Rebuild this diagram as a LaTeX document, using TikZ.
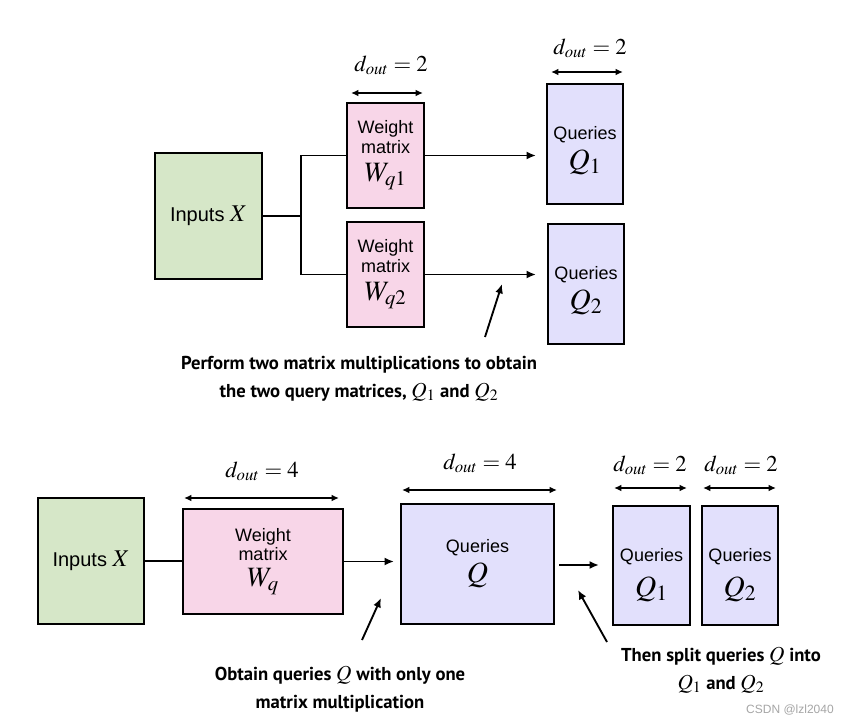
\documentclass[tikz,border=0pt]{standalone}
\usepackage{mathptmx}
\usepackage{fontspec}
\setmainfont{Liberation Sans}
\newfontfamily\capfont{PT Sans}
\usetikzlibrary{arrows.meta}
\definecolor{ingreen}{RGB}{214,231,200}
\definecolor{wpink}{RGB}{248,214,232}
\definecolor{qlav}{RGB}{226,224,252}
\begin{document}
\begin{tikzpicture}[x=0.75pt,y=-0.75pt,
  box/.style={draw=black,line width=1.6pt,inner sep=0pt,align=center,font=\fontsize{13.5}{14.5}\selectfont},
  inbox/.style={box,fill=ingreen,font=\fontsize{15}{17}\selectfont},
  wbox/.style={box,fill=wpink},
  qbox/.style={box,fill=qlav},
  conn/.style={line width=1.4pt},
  arr/.style={line width=1.4pt,-{Latex[length=7pt,width=6pt]}},
  dim/.style={line width=1.3pt,{Latex[length=5.5pt,width=5pt]}-{Latex[length=5.5pt,width=5pt]}},
  dimlab/.style={font=\fontsize{17}{19}\selectfont,inner sep=0pt},
  captext/.style={align=center,font=\capfont\bfseries\fontsize{14}{21}\selectfont,inner sep=0pt}]
\useasboundingbox (0,0) rectangle (845,725);
\fill[white] (0,0) rectangle (845,725);
% ---------- top ----------
\node[inbox,minimum width={107*0.75pt},minimum height={126*0.75pt}] (X1) at (208.5,216) {Inputs {\fontsize{18}{20}\selectfont$X$}};
\node[wbox,minimum width={77*0.75pt},minimum height={105*0.75pt}] (W1) at (385.5,155.5) {Weight\\matrix\\[7pt]{\fontsize{21}{21}\selectfont$W_{q1}$}};
\node[wbox,minimum width={77*0.75pt},minimum height={105*0.75pt}] (W2) at (385.5,274.5) {Weight\\matrix\\[7pt]{\fontsize{21}{21}\selectfont$W_{q2}$}};
\node[qbox,minimum width={76*0.75pt},minimum height={120*0.75pt}] (Q1t) at (585,144) {\rule{0pt}{20pt}Queries\\[4pt]{\fontsize{22}{22}\selectfont$Q_1$}};
\node[qbox,minimum width={76*0.75pt},minimum height={120*0.75pt}] (Q2t) at (586,284) {\rule{0pt}{20pt}Queries\\[4pt]{\fontsize{22}{22}\selectfont$Q_2$}};
\coordinate (jx) at (301,216);
\draw[conn] (X1.east |- jx) -- (jx);
\draw[conn] (W1.west) -| (jx) |- (W2.west);
\draw[arr,shorten >={10*0.75pt}] (W1.east) -- (W1.east -| Q1t.west);
\draw[arr,shorten >={11*0.75pt}] (W2.east) -- (W2.east -| Q2t.west);
% dimension arrows top
\coordinate (dW1a) at (351,93); \coordinate (dW1b) at (423,93);
\draw[dim] (dW1a) -- (dW1b);
\node[dimlab] (lW1) at (391,65) {$d_{out}=2$};
\coordinate (dQ1a) at (551,72); \coordinate (dQ1b) at (623,72);
\draw[dim] (dQ1a) -- (dQ1b);
\node[dimlab] (lQ1) at (590,48) {$d_{out}=2$};
% pointer + caption top
\node[captext] (capT) at (359,379) {Perform two matrix multiplications to obtain\\the two query matrices, {\fontsize{16}{16}\selectfont$Q_1$} and {\fontsize{16}{16}\selectfont$Q_2$}};
\coordinate (pTa) at (485,337); \coordinate (pTb) at (502,284);
\draw[arr] (pTa) -- (pTb);
% ---------- bottom ----------
\node[inbox,minimum width={106*0.75pt},minimum height={126*0.75pt}] (X2) at (91,561) {Inputs {\fontsize{18}{20}\selectfont$X$}};
\node[wbox,minimum width={160*0.75pt},minimum height={105*0.75pt}] (Wq) at (263,561.5) {Weight\\matrix\\[5pt]{\fontsize{21}{21}\selectfont$W_{q}$}};
\node[qbox,minimum width={153*0.75pt},minimum height={120*0.75pt}] (Q) at (477.5,564) {Queries\\[4pt]{\fontsize{22}{22}\selectfont$Q$}};
\node[qbox,minimum width={77*0.75pt},minimum height={119*0.75pt}] (Qa) at (651.5,565.5) {\rule{0pt}{24pt}Queries\\[8pt]{\fontsize{22}{22}\selectfont$Q_1$}};
\node[qbox,minimum width={76*0.75pt},minimum height={119*0.75pt}] (Qb) at (740,565.5) {\rule{0pt}{24pt}Queries\\[8pt]{\fontsize{22}{22}\selectfont$Q_2$}};
\draw[conn] (X2.east) -- (X2.east -| Wq.west);
\draw[arr,shorten >={6*0.75pt}] (Wq.east) -- (Wq.east -| Q.west);
\coordinate (sa) at (559,565);
\draw[arr,shorten >={13*0.75pt}] (sa) -- (sa -| Qa.west);
% dimension arrows bottom
\coordinate (dWa) at (184,498); \coordinate (dWb) at (339,498);
\draw[dim] (dWa) -- (dWb);
\node[dimlab] (lW) at (262,471) {$d_{out}=4$};
\coordinate (dQa) at (402,490); \coordinate (dQb) at (557,490);
\draw[dim] (dQa) -- (dQb);
\node[dimlab] (lQ) at (480,463) {$d_{out}=4$};
\coordinate (dQ1a2) at (614,488); \coordinate (dQ1b2) at (687,488);
\draw[dim] (dQ1a2) -- (dQ1b2);
\node[dimlab] (lQa) at (650,465) {$d_{out}=2$};
\coordinate (dQ2a2) at (703,488); \coordinate (dQ2b2) at (776,488);
\draw[dim] (dQ2a2) -- (dQ2b2);
\node[dimlab] (lQb) at (741,465) {$d_{out}=2$};
% captions bottom
\node[captext] (capL) at (340,689) {Obtain queries {\fontsize{16}{16}\selectfont$Q$} with only one\\matrix multiplication};
\node[captext] (capR) at (721,670) {Then split queries {\fontsize{16}{16}\selectfont$Q$} into\\{\fontsize{16}{16}\selectfont$Q_1$} and {\fontsize{16}{16}\selectfont$Q_2$}};
\coordinate (pLa) at (362,640); \coordinate (pLb) at (381,598);
\draw[arr] (pLa) -- (pLb);
\coordinate (pRa) at (607,642); \coordinate (pRb) at (578,590);
\draw[arr] (pRa) -- (pRb);
\node[font=\fontsize{9}{10}\selectfont,text=gray!70,inner sep=0pt] (wm) at (790,710) {CSDN @lzl2040};
\end{tikzpicture}
\end{document}
